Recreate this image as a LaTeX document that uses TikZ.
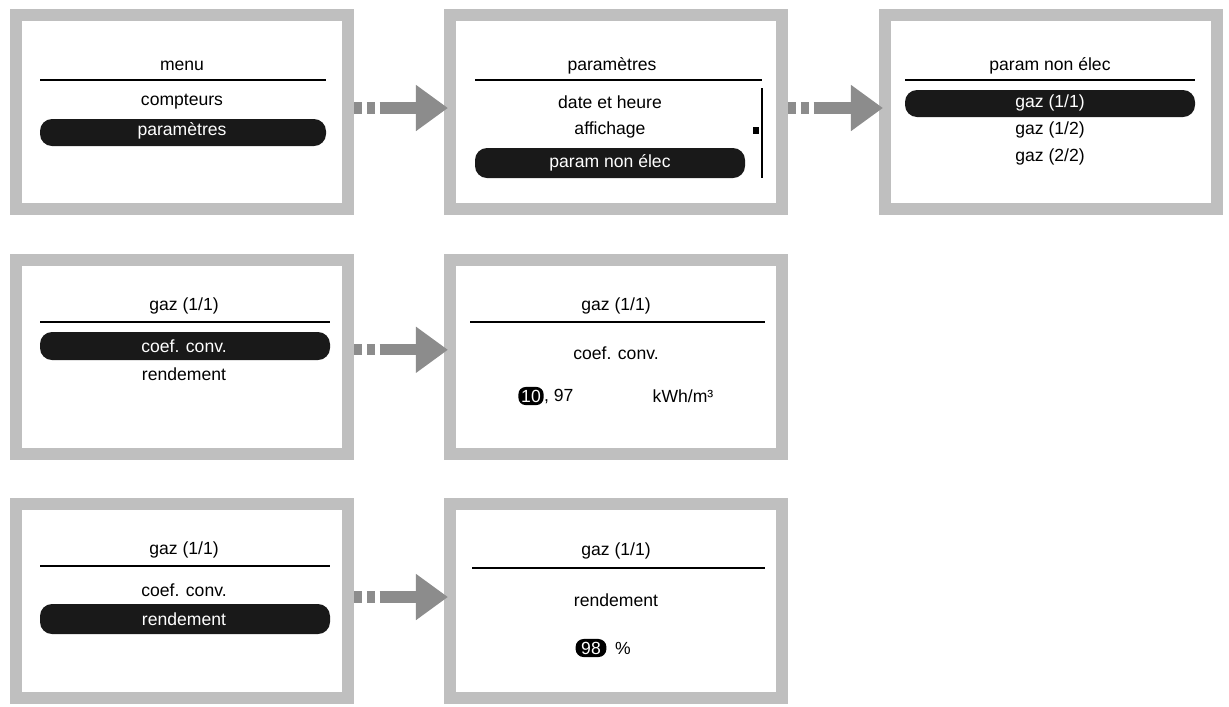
\documentclass[tikz,border=0pt]{standalone}
\usepackage{fontspec}
\setmainfont{Liberation Sans}
\usetikzlibrary{arrows.meta}
\tikzset{
  screen/.style={draw=black!25,line width=0.3cm,fill=white,minimum width=8.3cm,minimum height=4.85cm,inner sep=0pt},
  txt/.style={font=\fontsize{12.5}{14}\selectfont,inner sep=0pt},
  sel/.style={fill=black!90,rounded corners=0.3cm},
  rule/.style={line width=0.9pt},
  flow/.style={draw=black!45,line width=0.28cm,dash pattern=on 0.2cm off 0.12cm on 0.2cm off 0.12cm on 1.2cm,
    -{Triangle[length=0.8cm,width=1.1cm]},shorten >=-0.1cm}
}
\begin{document}
\begin{tikzpicture}[x=0.025cm,y=-0.025cm]
  \useasboundingbox[fill=white] (0,0) rectangle (1229,706);
  % screens
  \node[screen] (menu) at (182,112) {};
  \node[screen] (param) at (616,112) {};
  \node[screen] (nonelec) at (1051,112) {};
  \node[screen] (coef) at (182,357) {};
  \node[screen] (coefval) at (616,357) {};
  \node[screen] (rend) at (182,601) {};
  \node[screen] (rendval) at (616,601) {};
  % menu
  \node[txt] (t1) at (182,66) {menu};
  \draw[rule] (40,80) -- (326,80);
  \node[txt] (m1) at (182,102) {compteurs};
  \fill[sel] (40,119) rectangle (326,146);
  \node[txt,white] (m2) at (182,131) {paramètres};
  % parametres
  \node[txt] (t2) at (612,66) {paramètres};
  \draw[rule] (475,80) -- (762,80);
  \node[txt] (p1) at (610,102) {date et heure};
  \node[txt] (p2) at (610,130) {affichage};
  \fill[sel] (475,148) rectangle (745,178);
  \node[txt,white] (p3) at (610,163) {param non élec};
  \draw[line width=0.8pt] (762,88) -- (762,178);
  \fill (753,127) rectangle (759,134);
  % param non elec
  \node[txt] (t3) at (1050,66) {param non élec};
  \draw[rule] (905,80) -- (1195,80);
  \fill[sel] (905,90) rectangle (1195,117);
  \node[txt,white] (g1) at (1050,103) {gaz (1/1)};
  \node[txt] (g2) at (1050,130) {gaz (1/2)};
  \node[txt] (g3) at (1050,157) {gaz (2/2)};
  % gaz coef
  \node[txt] (t4) at (184,306) {gaz (1/1)};
  \draw[rule] (40,322) -- (330,322);
  \fill[sel] (40,332) rectangle (330,360);
  \node[txt,white] (c1) at (184,346) {coef. conv.};
  \node[txt] (c2) at (184,374) {rendement};
  % coef value
  \node[txt] (t5) at (616,306) {gaz (1/1)};
  \draw[rule] (470,322) -- (765,322);
  \node[txt] (v1) at (616,353) {coef. conv.};
  \node[txt,fill=black,text=white,rounded corners=0.18cm,inner sep=2pt] (v2) at (531,396) {10};
  \node[txt,anchor=west] (v3) at (v2.east) {, 97};
  \node[txt] (v4) at (683,396) {kWh/m³};
  % gaz rend
  \node[txt] (t6) at (184,550) {gaz (1/1)};
  \draw[rule] (40,566) -- (330,566);
  \node[txt] (r1) at (184,590) {coef. conv.};
  \fill[sel] (40,604) rectangle (330,634);
  \node[txt,white] (r2) at (184,619) {rendement};
  % rend value
  \node[txt] (t7) at (616,551) {gaz (1/1)};
  \draw[rule] (472,568) -- (765,568);
  \node[txt] (w1) at (616,600) {rendement};
  \node[txt,fill=black,text=white,rounded corners=0.2cm,inner xsep=4pt,inner ysep=2pt] (w2) at (591,648) {98};
  \node[txt] (w3) at (623,648) {\%};
  % arrows
  \draw[flow] ([yshift=0.1cm]menu.east) -- ([yshift=0.1cm]param.west);
  \draw[flow] ([yshift=0.1cm]param.east) -- ([yshift=0.1cm]nonelec.west);
  \draw[flow] ([yshift=0.18cm]coef.east) -- ([yshift=0.18cm]coefval.west);
  \draw[flow] ([yshift=0.1cm]rend.east) -- ([yshift=0.1cm]rendval.west);
\end{tikzpicture}
\end{document}
